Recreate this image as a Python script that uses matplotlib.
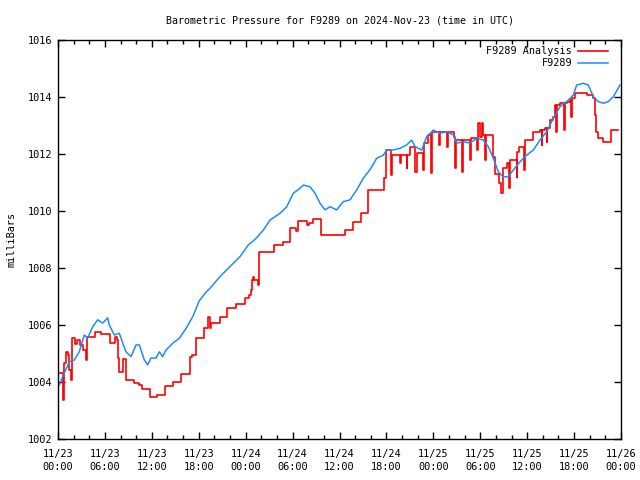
import matplotlib
matplotlib.use("Agg")
import matplotlib.pyplot as plt
from matplotlib.ticker import MultipleLocator, FixedLocator

# ---- data (hours since 2024-11-23 00:00 UTC, pressure in mbar) ----
obs_hours = [0.17, 0.60, 1.45, 2.08, 2.72, 3.36, 3.80, 4.44, 5.08, 5.72, 6.36, 6.56,
             7.20, 7.84, 8.27, 8.70, 9.34, 9.98, 10.40, 10.83, 11.04, 11.47, 11.89,
             12.53, 12.96, 13.39, 13.81, 14.67, 15.51, 16.37, 17.23, 18.07, 18.93,
             19.44, 20.72, 22.00, 23.28, 24.34, 25.19, 26.26, 27.11, 28.39, 29.25,
             30.09, 30.95, 31.37, 32.23, 32.87, 33.51, 34.15, 34.79, 35.64, 36.49,
             37.34, 38.20, 39.04, 39.90, 40.76, 41.60, 42.03, 42.88, 43.74, 44.59,
             45.23, 45.66, 46.51, 47.15, 48.00, 48.85, 49.71, 50.55, 50.99, 51.83,
             52.69, 53.55, 54.39, 55.03, 55.67, 56.31, 56.95, 57.59, 58.23, 59.09,
             59.94, 60.79, 61.64, 62.50, 63.34, 64.20, 65.06, 65.90, 66.33, 67.18,
             67.82, 68.46, 69.10, 69.74, 70.38, 71.02, 71.87]
obs_mbar = [1003.90, 1004.19, 1004.71, 1004.77, 1005.06, 1005.65, 1005.54, 1005.94,
            1006.18, 1006.07, 1006.25, 1006.00, 1005.65, 1005.71, 1005.37, 1005.06,
            1004.89, 1005.30, 1005.30, 1004.95, 1004.77, 1004.60, 1004.84, 1004.84,
            1005.06, 1004.89, 1005.12, 1005.36, 1005.53, 1005.88, 1006.29, 1006.85,
            1007.15, 1007.29, 1007.70, 1008.05, 1008.40, 1008.81, 1009.00, 1009.33,
            1009.68, 1009.92, 1010.15, 1010.62, 1010.80, 1010.91, 1010.85, 1010.62,
            1010.27, 1010.04, 1010.15, 1010.04, 1010.33, 1010.39, 1010.74, 1011.15,
            1011.45, 1011.85, 1011.96, 1012.14, 1012.14, 1012.20, 1012.32, 1012.49,
            1012.26, 1012.14, 1012.61, 1012.84, 1012.73, 1012.78, 1012.67, 1012.38,
            1012.43, 1012.38, 1012.55, 1012.49, 1012.26, 1011.85, 1011.38, 1011.20,
            1011.20, 1011.44, 1011.73, 1011.96, 1012.14, 1012.49, 1012.78, 1013.25,
            1013.66, 1013.84, 1014.07, 1014.42, 1014.48, 1014.42, 1014.01, 1013.84,
            1013.78, 1013.84, 1014.01, 1014.42]

ana_hours = [0.00, 0.64, 0.77, 1.02, 1.28, 1.45, 1.66, 1.73, 2.17, 2.43, 2.81, 3.16,
             3.64, 3.71, 4.73, 5.56, 6.65, 7.29, 7.55, 7.65, 7.74, 8.25, 8.70, 9.72,
             10.36, 10.74, 11.77, 12.60, 13.68, 14.71, 15.79, 16.88, 17.20, 17.65,
             18.61, 19.22, 19.38, 19.63, 20.72, 21.65, 22.70, 23.92, 24.43, 24.62,
             24.77, 24.94, 25.07, 25.62, 25.71, 27.62, 28.74, 29.67, 30.50, 30.63,
             31.78, 32.10, 32.65, 33.60, 36.70, 37.73, 38.69, 39.69, 41.69, 42.00,
             42.64, 42.77, 43.74, 43.84, 44.59, 44.69, 45.01, 45.66, 45.85, 46.71,
             46.87, 47.32, 47.64, 47.77, 48.72, 48.81, 49.78, 49.88, 50.65, 50.78,
             50.90, 51.71, 51.80, 52.69, 52.78, 53.62, 53.71, 53.96, 54.16, 54.39,
             54.61, 54.70, 55.64, 55.83, 56.40, 56.66, 56.85, 57.36, 57.68, 57.81,
             58.64, 58.74, 58.96, 59.60, 59.73, 60.79, 61.64, 61.84, 61.96, 62.28,
             62.50, 62.60, 62.92, 63.34, 63.55, 63.74, 63.85, 64.20, 64.71, 64.84,
             65.06, 65.48, 65.57, 65.67, 66.12, 67.62, 68.46, 68.69, 68.78, 69.10,
             69.74, 70.72, 71.66]
ana_mbar = [1004.30, 1003.37, 1004.67, 1005.06, 1004.95, 1004.42, 1004.07, 1005.53,
            1005.35, 1005.47, 1005.30, 1005.12, 1004.77, 1005.59, 1005.76, 1005.68,
            1005.36, 1005.59, 1005.47, 1004.83, 1004.36, 1004.80, 1004.07, 1003.95,
            1003.90, 1003.75, 1003.49, 1003.54, 1003.86, 1003.99, 1004.27, 1004.87,
            1004.95, 1005.53, 1005.88, 1006.29, 1005.88, 1006.06, 1006.29, 1006.61,
            1006.74, 1006.94, 1007.05, 1007.23, 1007.58, 1007.70, 1007.58, 1007.40,
            1008.57, 1008.81, 1008.92, 1009.39, 1009.30, 1009.66, 1009.51, 1009.57,
            1009.71, 1009.16, 1009.33, 1009.62, 1009.92, 1010.72, 1011.15, 1012.14,
            1011.26, 1011.96, 1011.67, 1011.96, 1011.50, 1011.96, 1012.26, 1011.38,
            1012.02, 1011.44, 1012.38, 1012.67, 1011.32, 1012.78, 1012.32, 1012.78,
            1012.26, 1012.78, 1012.61, 1011.50, 1012.49, 1011.38, 1012.49, 1011.79,
            1012.55, 1012.14, 1013.08, 1012.61, 1013.08, 1012.67, 1011.79, 1012.67,
            1011.91, 1011.30, 1010.97, 1010.62, 1011.50, 1011.67, 1010.80, 1011.79,
            1011.20, 1012.08, 1012.26, 1011.44, 1012.49, 1012.78, 1012.84, 1012.30,
            1012.84, 1012.90, 1012.43, 1012.90, 1013.19, 1013.31, 1013.72, 1012.78,
            1013.72, 1013.78, 1012.84, 1013.78, 1013.84, 1013.90, 1013.31, 1013.95,
            1014.13, 1014.07, 1013.95, 1013.37, 1012.78, 1012.55, 1012.43, 1012.84,
            1012.84]

tick_hours = [0, 6, 12, 18, 24, 30, 36, 42, 48, 54, 60, 66, 72]
tick_labels = ["11/23\n00:00", "11/23\n06:00", "11/23\n12:00", "11/23\n18:00",
               "11/24\n00:00", "11/24\n06:00", "11/24\n12:00", "11/24\n18:00",
               "11/25\n00:00", "11/25\n06:00", "11/25\n12:00", "11/25\n18:00",
               "11/26\n00:00"]

plt.rcParams['font.family'] = ['DejaVu Sans Mono']
plt.rcParams['font.size'] = 7.2

fig = plt.figure(figsize=(6.4, 4.8), dpi=100)
ax = fig.add_axes([58/640, 1-439/480, (621-58)/640, (439-40)/480])

ax.plot(ana_hours, ana_mbar, drawstyle='steps-post', color='#ff0000', lw=1.2,
        label='F9289 Analysis')
ax.plot(obs_hours, obs_mbar, color='#1a8cff', lw=1.1, label='F9289')

ax.set_xlim(0, 72)
ax.set_ylim(1002, 1016)
ax.xaxis.set_major_locator(FixedLocator(tick_hours))
ax.set_xticklabels(tick_labels, linespacing=1.4)
ax.xaxis.set_minor_locator(MultipleLocator(2))
ax.yaxis.set_major_locator(MultipleLocator(2))
ax.tick_params(which='both', direction='in', top=True, right=True, width=1,
               labelsize=7.4)
ax.tick_params(which='major', length=5, pad=4)
ax.tick_params(which='minor', length=3)
ax.tick_params(axis='x', pad=7)
for s in ax.spines.values():
    s.set_linewidth(1.0)

ax.set_ylabel('milliBars', fontsize=7.3, labelpad=8)
ax.set_title('Barometric Pressure for F9289 on 2024-Nov-23 (time in UTC)',
             fontsize=7.2, pad=12)

ax.legend(loc='upper right', markerfirst=False, frameon=False, fontsize=7.3,
          handlelength=2.9, handletextpad=0.6, labelspacing=0.2,
          borderaxespad=0.2, bbox_to_anchor=(0.987, 1.0))

fig.savefig('out.png', dpi=100)
